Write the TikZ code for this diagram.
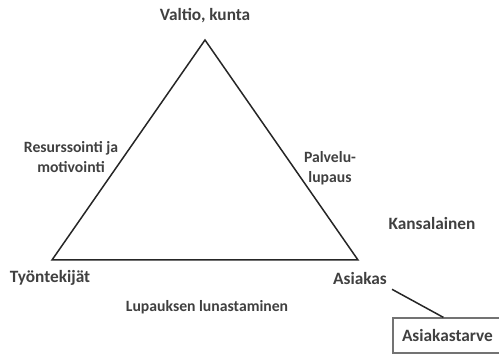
\documentclass[tikz,border=0pt]{standalone}
\usepackage{fontspec}
\setmainfont{Carlito}
\usepackage{xcolor}
\usetikzlibrary{calc}
\definecolor{txtgray}{HTML}{404040}
\tikzset{lbl/.style={text=txtgray, font=\bfseries\fontsize{17.3}{20}\selectfont, align=center, inner sep=0pt},
         sidelbl/.style={lbl, font=\bfseries\fontsize{15.7}{20}\selectfont}}

\begin{document}
\begin{tikzpicture}[x=1pt,y=-1pt]
            \useasboundingbox (0,0) rectangle (499,355);
            \coordinate (top) at (205,40);
            \coordinate (left) at (52,260);
            \coordinate (right) at (358,260);
            \draw[line width=1.5pt, black!85] (top) -- (right) -- (left) -- cycle;
            \node[lbl] (valtio) at (205,16) {Valtio, kunta};
            \node[sidelbl] (resurssi) at (71,157) {Resurssointi ja\\motivointi};
            \node[sidelbl] (palvelu) at (330,168) {Palvelu-\\lupaus};
            \node[lbl] (kansa) at (432,223) {Kansalainen};
            \node[lbl] (tyont) at (50,278) {Työntekijät};
            \node[lbl] (asiakas) at (360,278) {Asiakas};
            \node[sidelbl] (lupaus) at (207,307) {Lupauksen lunastaminen};
            \node[lbl, draw=black!55, line width=1.2pt, minimum width=114pt, minimum height=35pt, text width=104pt, align=left, inner xsep=5pt] (tarve) at (450,335.5) {\hspace{4pt}Asiakastarve};
            \coordinate (linestart) at ($(asiakas.south east)+(5,5)$);
            \coordinate (lineend) at ($(tarve.north west)+(51,0)$);
            \draw[line width=1.5pt, black!85] (linestart) -- (lineend);
        \end{tikzpicture}
\end{document}
